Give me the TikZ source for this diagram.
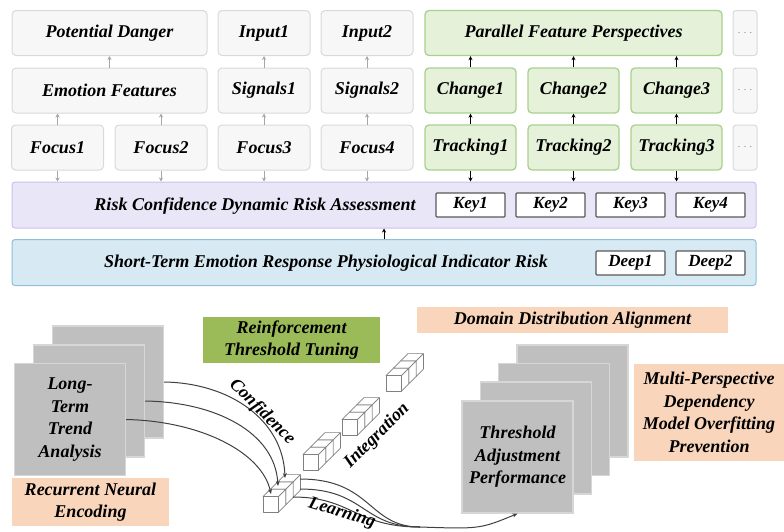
\documentclass[tikz,border=0pt]{standalone}
\usepackage{fontspec}
\setmainfont{Liberation Serif}
\usetikzlibrary{arrows.meta,calc}

\definecolor{boxLine}{HTML}{D9D9D9}
\definecolor{boxFill}{HTML}{F7F7F7}
\definecolor{grnLine}{HTML}{A9D18E}
\definecolor{grnFill}{HTML}{E6F1DA}
\definecolor{purLine}{HTML}{C9C2EA}
\definecolor{purFill}{HTML}{E9E6F7}
\definecolor{bluLine}{HTML}{8CBFDC}
\definecolor{bluFill}{HTML}{D7E9F3}
\definecolor{keyLine}{HTML}{595959}
\definecolor{peach}{HTML}{F8D5BB}
\definecolor{leaf}{HTML}{9BBB59}
\definecolor{slab}{HTML}{BFBFBF}
\definecolor{slabLine}{HTML}{D6D6D6}
\definecolor{wire}{HTML}{404040}
\definecolor{softArrow}{HTML}{A6A6A6}

\tikzset{
  % --- text ---------------------------------------------------------------
  txt/.style      = {font=\bfseries\itshape\fontsize{18}{22.5}\selectfont,
                     align=center},
  % --- upper feature stack ------------------------------------------------
  topcell/.style  = {txt, draw=boxLine, fill=boxFill, rounded corners=4pt,
                     line width=1pt, minimum height=45pt, inner sep=0pt},
  grncell/.style  = {topcell, draw=grnLine, fill=grnFill, line width=1.3pt},
  dots/.style     = {draw=boxLine, fill=boxFill, rounded corners=3pt,
                     line width=1pt, minimum width=24pt, minimum height=45pt,
                     inner sep=0pt, font=\fontsize{10}{10}\selectfont, text=gray},
  band/.style     = {rounded corners=3pt, line width=1pt,
                     minimum width=744pt, minimum height=46pt},
  keybox/.style   = {draw=keyLine, fill=white, line width=1.2pt,
                     rounded corners=1pt, minimum width=69pt,
                     minimum height=24pt, inner sep=0pt,
                     font=\bfseries\itshape\fontsize{17}{17}\selectfont},
  softup/.style   = {draw=softArrow, line width=0.8pt,
                     -{Stealth[length=4pt,width=4pt]}},
  hardup/.style   = {draw=black, line width=0.8pt,
                     -{Stealth[length=4pt,width=4pt]}},
  % --- lower pipeline -----------------------------------------------------
  slabbox/.style  = {txt, draw=slabLine, fill=slab, line width=1.2pt,
                     minimum width=111pt, minimum height=112pt, inner sep=0pt},
  flatlbl/.style  = {txt, inner sep=0pt},
  cubeface/.style = {draw=gray, fill=white, line width=0.7pt, line join=round},
  wirearc/.style  = {draw=wire, line width=1pt},
  wiretip/.style  = {wirearc, -{Stealth[length=5pt,width=4pt]}},
}

\begin{document}
\begin{tikzpicture}[x=1pt, y=-1pt]
\useasboundingbox (0,0) rectangle (784,531);

% ==================== upper stack: feature boxes ==========================
\node[topcell, minimum width=195pt] (danger)   at (109.5,33)   {Potential Danger};
\node[topcell, minimum width=92pt]  (input1)   at (264,33)     {Input1};
\node[topcell, minimum width=92pt]  (input2)   at (367,33)     {Input2};
\node[topcell, minimum width=195pt] (emotion)  at (109.5,90.5) {Emotion Features};
\node[topcell, minimum width=92pt]  (signals1) at (264,90.5)   {Signals1};
\node[topcell, minimum width=92pt]  (signals2) at (367,90.5)   {Signals2};
\foreach \n/\x/\lbl in {focus1/57.5/Focus1, focus2/161/Focus2,
                        focus3/264/Focus3, focus4/367/Focus4}{
  \node[topcell, minimum width=92pt] (\n) at (\x,147.5) {\lbl};}

% green perspectives
\node[grncell, minimum width=297pt] (parallel) at (573.5,33) {Parallel Feature Perspectives};
\foreach \i/\x in {1/470.5, 2/573.5, 3/676.5}{
  \node[grncell, minimum width=91pt] (change\i) at (\x,90.5)  {Change\i};
  \node[grncell, minimum width=91pt] (track\i)  at (\x,147.5) {Tracking\i};}
\foreach \n/\y in {1/33, 2/90.5, 3/147.5}{
  \node[dots] (more\n) at (745,\y) {. . .};}

% arrows between rows
\draw[softup] (emotion.north)  -- (danger.south);
\draw[softup] (signals1.north) -- (input1.south);
\draw[softup] (signals2.north) -- (input2.south);
\foreach \n in {focus1, focus2}{
  \draw[softup] (\n.north) -- (\n.north |- emotion.south);}
\draw[softup] (focus3.north) -- (signals1.south);
\draw[softup] (focus4.north) -- (signals2.south);
\foreach \i in {1,2,3}{
  \draw[hardup] (change\i.north) -- (change\i.north |- parallel.south);
  \draw[hardup] (track\i.north)  -- (change\i.south);}

% ==================== assessment bands ====================================
\node[band, draw=purLine, fill=purFill] (assess)    at (384,205)   {};
\node[flatlbl] (assesslbl) at (255,206) {Risk Confidence Dynamic Risk Assessment};
\node[band, draw=bluLine, fill=bluFill] (shortterm) at (384,262.5) {};
\node[flatlbl] (shortlbl)  at (326,263) {Short-Term Emotion Response Physiological Indicator Risk};

\foreach \i/\x in {1/470.5, 2/550.5, 3/630.5, 4/710.5}{
  \node[keybox] (key\i) at (\x,205) {Key\i};}
\foreach \i/\x in {1/630.5, 2/710.5}{
  \node[keybox] (deep\i) at (\x,263) {Deep\i};}

\foreach \n in {focus1, focus2, focus3, focus4}{
  \draw[softup] (\n.south) -- (\n.south |- assess.north);}
\foreach \i in {1,2,3}{
  \draw[hardup] (track\i.south) -- (track\i.south |- assess.north);}
\draw[hardup] (shortterm.north) -- (assess.south);

% ==================== lower pipeline ======================================
\node[flatlbl, fill=leaf, minimum width=177pt, minimum height=46pt] (tuning)
      at (291.5,340) {Reinforcement\\Threshold Tuning};
\node[flatlbl, fill=peach, minimum width=311pt, minimum height=26pt] (domain)
      at (572.5,320) {Domain Distribution Alignment};
\node[flatlbl, fill=peach, minimum width=157pt, minimum height=48pt] (recurrent)
      at (90.5,502) {Recurrent Neural\\Encoding};
\node[flatlbl, fill=peach, minimum width=150pt, minimum height=97pt] (overfit)
      at (709,412.5) {Multi-Perspective\\Dependency\\Model Overfitting\\Prevention};

% stacked slabs, back to front
\node[slabbox] (trendB) at (108,382)   {};
\node[slabbox] (trendA) at (89,401)    {};
\node[slabbox] (trend)  at (70,419.5)  {Long-\\Term\\Trend\\Analysis};
\foreach \k/\x/\y in {3/572.5/401, 2/554/419.5, 1/536/438}{
  \node[slabbox] (adjust\k) at (\x,\y) {};}
\node[slabbox] (adjust) at (517.5,457) {Threshold\\Adjustment\\Performance};

% cube bars: three cubes deep, back one first
\foreach \gx/\gy in {263/512, 303/470, 342/435, 386/391}{
  \foreach \k in {2,1,0}{
    \begin{scope}[shift={(\gx+\k*7.3,\gy-\k*7.3)}]
      \draw[cubeface] (0,0) rectangle (15.5,-15.5);
      \draw[cubeface] (0,-15.5) -- (7.3,-22.8) -- (22.8,-22.8) -- (15.5,-15.5) -- cycle;
      \draw[cubeface] (15.5,0) -- (22.8,-7.3) -- (22.8,-22.8) -- (15.5,-15.5) -- cycle;
    \end{scope}}}

\coordinate (hit0) at (271,494);
\coordinate (hit1) at (278,486);
\coordinate (hit2) at (285,478);
\coordinate (out0) at (293,497);
\coordinate (out1) at (300,489);
\coordinate (out2) at (300,479);
\coordinate (merge) at (420,527);

% confidence wires
\draw[wiretip] (trendB.east) .. controls (230,383) and (283,420) .. (hit2);
\draw[wiretip] (trendA.east) .. controls (215,402) and (275,432) .. (hit1);
\draw[wiretip] (trend.east)  .. controls (200,421) and (262,452) .. (hit0);

% learning wires
\draw[wirearc] (out2) .. controls (372,479) and (368,527) .. (merge);
\draw[wirearc] (out1) .. controls (365,489) and (362,527) .. (merge);
\draw[wirearc] (out0) .. controls (352,497) and (355,527) .. (merge);
\draw[wiretip] (merge) .. controls (480,529) .. (adjust.south);

\node[flatlbl, rotate=-45] (conflbl)  at (262,412) {Confidence};
\node[flatlbl, rotate=45]  (integlbl) at (377,436) {Integration};
\node[flatlbl, rotate=-17] (learnlbl) at (342,513) {Learning};

\end{tikzpicture}
\end{document}
